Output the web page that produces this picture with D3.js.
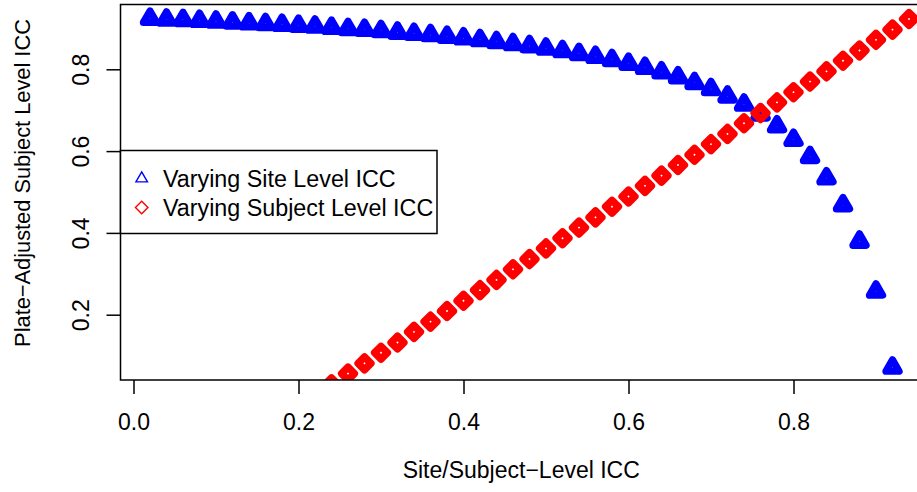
<!DOCTYPE html>
<html><head><meta charset="utf-8">
<script src="https://cdn.jsdelivr.net/npm/d3@7"></script>
<style>body{margin:0;background:#fff;overflow:hidden} text{font-family:"Liberation Sans",Arial,Helvetica,sans-serif}</style>
</head><body><div id="chart"></div>
<script>
// ---- data ----
const xTicks = [0, 0.2, 0.4, 0.6, 0.8];
const yTicks = [0.2, 0.4, 0.6, 0.8];
const siteX = [0.02,0.04,0.06,0.08,0.10,0.12,0.14,0.16,0.18,0.20,0.22,0.24,0.26,0.28,0.30,0.32,0.34,0.36,0.38,0.40,0.42,0.44,0.46,0.48,0.50,0.52,0.54,0.56,0.58,0.60,0.62,0.64,0.66,0.68,0.70,0.72,0.74,0.76,0.78,0.80,0.82,0.84,0.86,0.88,0.90,0.92];
const siteY = [0.924,0.922,0.921,0.919,0.917,0.915,0.913,0.911,0.909,0.907,0.905,0.902,0.899,0.897,0.894,0.890,0.887,0.884,0.880,0.876,0.872,0.867,0.862,0.857,0.851,0.845,0.838,0.831,0.823,0.814,0.804,0.793,0.781,0.767,0.752,0.734,0.714,0.690,0.661,0.628,0.586,0.534,0.468,0.379,0.257,0.071];
const subjX = [0.24,0.26,0.28,0.30,0.32,0.34,0.36,0.38,0.40,0.42,0.44,0.46,0.48,0.50,0.52,0.54,0.56,0.58,0.60,0.62,0.64,0.66,0.68,0.70,0.72,0.74,0.76,0.78,0.80,0.82,0.84,0.86,0.88,0.90,0.92,0.94];
const subjY = [0.030,0.056,0.081,0.107,0.132,0.158,0.183,0.209,0.234,0.260,0.285,0.311,0.336,0.362,0.387,0.413,0.438,0.464,0.489,0.515,0.540,0.566,0.591,0.617,0.642,0.668,0.693,0.719,0.744,0.770,0.795,0.821,0.846,0.872,0.897,0.923];
const seriesNames = ["Varying Site Level ICC", "Varying Subject Level ICC"];
const seriesColors = ["#0000ff", "#ff0000"];
const xTitle = "Site/Subject\u2212Level ICC";
const yTitle = "Plate\u2212Adjusted Subject Level ICC";

// ---- layout ----
const W = 917, H = 492;
const FS = 23;
const plot = {left: 120.5, top: 4.5, right: 922, bottom: 380};
const x = d3.scaleLinear().domain([0, 0.8]).range([133.5, 793.5]);
const y = d3.scaleLinear().domain([0.2, 0.8]).range([314.7, 69.3]);

const svg = d3.select("#chart").append("svg").attr("width", W).attr("height", H)
  .style("display", "block");
svg.append("rect").attr("width", W).attr("height", H).attr("fill", "#fff");

svg.append("defs").append("clipPath").attr("id", "clip").append("rect")
  .attr("x", plot.left).attr("y", plot.top)
  .attr("width", plot.right - plot.left).attr("height", plot.bottom - plot.top);

const gPts = svg.append("g").attr("clip-path", "url(#clip)");
const tri = d3.symbol().type(d3.symbolTriangle).size(75);
const sq = d3.symbol().type(d3.symbolSquare).size(82);
const siteData = siteX.map((v, i) => [v, siteY[i]]);
const subjData = subjX.map((v, i) => [v, subjY[i]]);

gPts.selectAll("path.site").data(siteData).join("path").attr("class", "site")
  .attr("d", tri)
  .attr("transform", d => `translate(${x(d[0])},${y(d[1])})`)
  .attr("fill", "none").attr("stroke", seriesColors[0])
  .attr("stroke-width", 7.2).attr("stroke-linejoin", "round");

gPts.selectAll("path.subj").data(subjData).join("path").attr("class", "subj")
  .attr("d", sq)
  .attr("transform", d => `translate(${x(d[0])},${y(d[1])}) rotate(45)`)
  .attr("fill", "none").attr("stroke", seriesColors[1])
  .attr("stroke-width", 7.4).attr("stroke-linejoin", "round");

// box
svg.append("rect").attr("x", plot.left).attr("y", plot.top)
  .attr("width", plot.right - plot.left).attr("height", plot.bottom - plot.top)
  .attr("fill", "none").attr("stroke", "#000").attr("stroke-width", 1.5);

// x axis
const gx = svg.append("g").attr("transform", `translate(0,${plot.bottom})`)
  .call(d3.axisBottom(x).tickValues(xTicks).tickFormat(d3.format(".1f"))
    .tickSize(14).tickSizeOuter(0).tickPadding(19.5));
gx.select(".domain").remove();
gx.selectAll("line").attr("stroke-width", 1.5);
gx.selectAll("text").attr("font-size", FS).attr("fill", "#000")
  .style("font-family", "'Liberation Sans', Arial, sans-serif");

// y axis
const gy = svg.append("g").attr("transform", `translate(${plot.left},0)`)
  .call(d3.axisLeft(y).tickValues(yTicks).tickFormat(d3.format(".1f"))
    .tickSize(14).tickSizeOuter(0));
gy.select(".domain").remove();
gy.selectAll("line").attr("stroke-width", 1.5);
gy.selectAll("text").attr("x", null).attr("dy", null).attr("y", 0)
  .attr("text-anchor", "middle").attr("transform", "translate(-32,0) rotate(-90)")
  .attr("font-size", FS).attr("fill", "#000")
  .style("font-family", "'Liberation Sans', Arial, sans-serif");

// titles
svg.append("text").attr("x", (plot.left + plot.right) / 2).attr("y", 478)
  .attr("text-anchor", "middle").attr("font-size", FS).text(xTitle);
svg.append("text").attr("transform", `translate(30,183) rotate(-90)`)
  .attr("text-anchor", "middle").attr("font-size", 21.8).text(yTitle);

// legend
const lg = svg.append("g");
lg.append("rect").attr("x", plot.left).attr("y", 150.5).attr("width", 316.5).attr("height", 83)
  .attr("fill", "#fff").attr("stroke", "#000").attr("stroke-width", 1.5);
const legendRows = seriesNames.map((n, i) => ({name: n, color: seriesColors[i], i}));
const rowY = [178.5, 207.5];
lg.selectAll("path.lsym").data(legendRows).join("path").attr("class", "lsym")
  .attr("d", d => d.i === 0 ? d3.symbol().type(d3.symbolTriangle).size(58)() : d3.symbol().type(d3.symbolSquare).size(78)())
  .attr("transform", d => `translate(141.7,${rowY[d.i]})` + (d.i === 1 ? " rotate(45)" : ""))
  .attr("fill", "none").attr("stroke", d => d.color).attr("stroke-width", 1.4);
lg.selectAll("text.ltxt").data(legendRows).join("text").attr("class", "ltxt")
  .attr("x", 163).attr("y", d => rowY[d.i] + 8.2)
  .attr("font-size", 23.3).attr("fill", "#000").text(d => d.name);
</script></body></html>
